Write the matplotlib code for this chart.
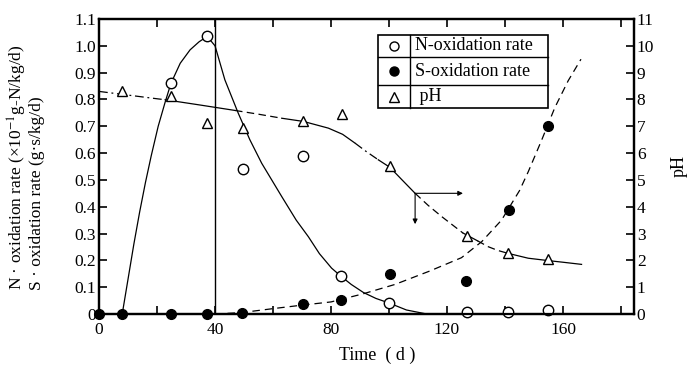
import matplotlib
matplotlib.use("Agg")
import matplotlib.pyplot as plt
from matplotlib.patches import Rectangle
from matplotlib.lines import Line2D

plt.rcParams['font.family'] = ['Liberation Serif', 'DejaVu Serif']
plt.rcParams['mathtext.fontset'] = 'stix'

# ---------------- data ----------------
# measured points
n_time = [24.8, 37.3, 49.5, 70.5, 83.3, 100.0, 126.8, 140.9, 155.0]
n_rate = [0.86, 1.035, 0.54, 0.59, 0.142, 0.041, 0.006, 0.009, 0.015]

s_time = [0, 7.8, 24.8, 37.1, 49.2, 70.2, 83.4, 100.3, 126.6, 141.5, 155.0]
s_rate = [0, 0, 0, 0, 0.005, 0.037, 0.053, 0.149, 0.124, 0.388, 0.70]

ph_time = [8.0, 24.7, 37.3, 49.5, 70.5, 83.7, 100.3, 126.8, 141.1, 155.0]
ph_val = [8.31, 8.12, 7.11, 6.93, 7.21, 7.45, 5.50, 2.91, 2.29, 2.04]

# hand-drawn trend curves (traced points)
n_curve_x = [8, 10, 12, 14, 16, 18, 20.4, 22.8, 24.8, 28, 31.4, 34.5, 37.3,
             40, 43.4, 48, 52, 56.1, 63, 68, 72.2, 76, 80.2, 83.3, 87, 91.2,
             95.5, 100, 106, 113]
n_curve_y = [0, 0.13, 0.26, 0.38, 0.49, 0.59, 0.70, 0.79, 0.86, 0.935, 0.985, 1.015,
             1.035, 1.0, 0.873, 0.749, 0.65, 0.562, 0.438, 0.35, 0.288, 0.225,
             0.171, 0.142, 0.11, 0.08, 0.058, 0.041, 0.015, 0]

s_curve_x = [40, 49, 60, 70, 80, 91, 102, 114, 125, 132, 138.8, 145, 148, 152.7,
             157.2, 161.8, 166.2]
s_curve_y = [0, 0.005, 0.02, 0.033, 0.045, 0.075, 0.11, 0.16, 0.21, 0.27, 0.35,
             0.46, 0.53, 0.65, 0.77, 0.87, 0.95]

ph_curve_x = [0, 8, 20.4, 22.8, 35, 46.9, 55, 63, 70.5, 79.1, 84, 88.3, 92, 96.3,
              100.3, 104.5, 109, 113.5, 118.2, 122.5, 125.5, 127.4, 130.5, 134.2,
              137.5, 141.1, 148, 155, 160, 166.4]
ph_curve_y = [8.30, 8.19, 8.02, 7.99, 7.79, 7.59, 7.45, 7.30, 7.18, 6.93, 6.70, 6.37,
              6.07, 5.75, 5.47, 5.00, 4.50, 4.05, 3.63, 3.27, 3.02, 2.91, 2.73, 2.51,
              2.37, 2.26, 2.08, 1.99, 1.93, 1.85]
# line style of each stretch of the pH curve (start index, end index, style)
ph_segments = [(0, 3, 'dashdot'), (3, 5, 'solid'), (5, 7, 'dash'), (7, 11, 'solid'),
               (11, 13, 'dashdot'), (13, 16, 'solid'), (16, 20, 'dash'),
               (20, 22, 'solid'), (22, 25, 'dash'), (25, 29, 'solid')]

legend_labels = ['N-oxidation rate', 'S-oxidation rate', ' pH']
x_ticks = [0, 40, 80, 120, 160]
y_ticks = [0, 0.1, 0.2, 0.3, 0.4, 0.5, 0.6, 0.7, 0.8, 0.9, 1.0, 1.1]
y_tick_labels = ['0', '0.1', '0.2', '0.3', '0.4', '0.5', '0.6', '0.7', '0.8', '0.9', '1.0', '1.1']
ph_ticks = list(range(0, 12))

# ---------------- figure ----------------
fig = plt.figure(figsize=(6.94, 3.8), dpi=100)
ax = fig.add_axes([0.1427, 0.1737, 0.7709, 0.7763])
ax2 = ax.twinx()
ax.set_xlim(0, 184.5)
ax.set_ylim(0, 1.1)
ax2.set_ylim(0, 11)

styles = {'solid': dict(linestyle='-'),
          'dash': dict(linestyle=(0, (6, 3.5))),
          'dashdot': dict(linestyle=(0, (7, 3, 1.5, 3)))}

lw = 0.9
# vertical line at day 40
ax.axvline(40, color='black', lw=1.0, zorder=2)
# N curve
ax.plot(n_curve_x, n_curve_y, color='black', lw=lw, zorder=2)
# S curve
ax.plot(s_curve_x, s_curve_y, color='black', lw=lw, linestyle=(0, (6, 4)), zorder=2)
# pH curve in pieces (drawn on ax with right-axis transform)
for i0, i1, st in ph_segments:
    ax.plot(ph_curve_x[i0:i1 + 1], ph_curve_y[i0:i1 + 1], color='black', lw=lw,
            transform=ax2.transData, zorder=2, **styles[st])

# markers
ax.plot(n_time, n_rate, 'o', ms=7.5, mfc='white', mec='black', mew=1.0,
        zorder=4, clip_on=False)
ax.plot(s_time, s_rate, 'o', ms=7, mfc='black', mec='black', zorder=5, clip_on=False)
ax.plot(ph_time, ph_val, '^', ms=7.5, mfc='white', mec='black', mew=1.0,
        transform=ax2.transData, zorder=4)

# arrows
ax.annotate('', xy=(125.5, 4.5), xytext=(109, 4.5), xycoords=ax2.transData,
            textcoords=ax2.transData,
            arrowprops=dict(arrowstyle='-|>', lw=0.8, color='black',
                            mutation_scale=7, shrinkA=0, shrinkB=0))
ax.annotate('', xy=(109, 3.35), xytext=(109, 4.5), xycoords=ax2.transData,
            textcoords=ax2.transData,
            arrowprops=dict(arrowstyle='-|>', lw=0.8, color='black',
                            mutation_scale=7, shrinkA=0, shrinkB=0))

# ticks
fs = 12.5
ax.set_xticks(x_ticks)
ax.set_xticks(list(range(0, 181, 20)), minor=True)
ax.set_yticks(y_ticks)
ax.set_yticklabels(y_tick_labels)
ax.tick_params(axis='x', which='both', direction='in', top=True, length=6,
               width=1.2, labelsize=fs, pad=6)
ax.tick_params(axis='x', which='minor', length=6)
ax.tick_params(axis='y', direction='in', length=6, width=1.2, labelsize=fs, pad=2)
ax2.set_yticks(ph_ticks)
ax2.tick_params(axis='y', direction='in', length=6, width=1.2, labelsize=fs, pad=2)
for a in (ax, ax2):
    for sp in a.spines.values():
        sp.set_linewidth(1.6)

# labels
ax.set_xlabel('Time\u2002( d )', fontsize=13, labelpad=6)
ax.xaxis.set_label_coords(0.52, -0.11)
ax2.set_ylabel('pH', fontsize=13, labelpad=12)
fig.text(0.025, 0.237, r'N · oxidation rate (×10$^{-1}$g-N/kg/d)', rotation=90,
         rotation_mode='anchor', ha='left', va='center', fontsize=12.5)
fig.text(0.053, 0.237, r'S · oxidation rate (g·s/kg/d)', rotation=90,
         rotation_mode='anchor', ha='left', va='center', fontsize=12.5)

# legend box drawn as a small table
lx0, lx1, lsep = 0.5215, 0.839, 0.581
ly = [0.946, 0.871, 0.776, 0.698]
ax.add_patch(Rectangle((lx0, ly[3]), lx1 - lx0, ly[0] - ly[3], transform=ax.transAxes,
                       fill=True, fc='white', ec='black', lw=1.2, zorder=6))
for yy in ly[1:3]:
    ax.add_line(Line2D([lx0, lx1], [yy, yy], transform=ax.transAxes, color='black',
                       lw=1.0, zorder=7))
ax.add_line(Line2D([lsep, lsep], [ly[3], ly[0]], transform=ax.transAxes, color='black',
                   lw=1.0, zorder=7))
mk = [dict(marker='o', mfc='white', mec='black', ms=6.5, mew=1.0),
      dict(marker='o', mfc='black', mec='black', ms=6.5),
      dict(marker='^', mfc='white', mec='black', ms=6.5, mew=1.0)]
for k in range(3):
    yc = (ly[k] + ly[k + 1]) / 2
    ax.plot([0.551], [yc], linestyle='none', transform=ax.transAxes, zorder=8, **mk[k])
    ax.text(0.590, yc, legend_labels[k], transform=ax.transAxes, ha='left',
            va='center', fontsize=13, zorder=8)

fig.savefig('out.png', dpi=100)
